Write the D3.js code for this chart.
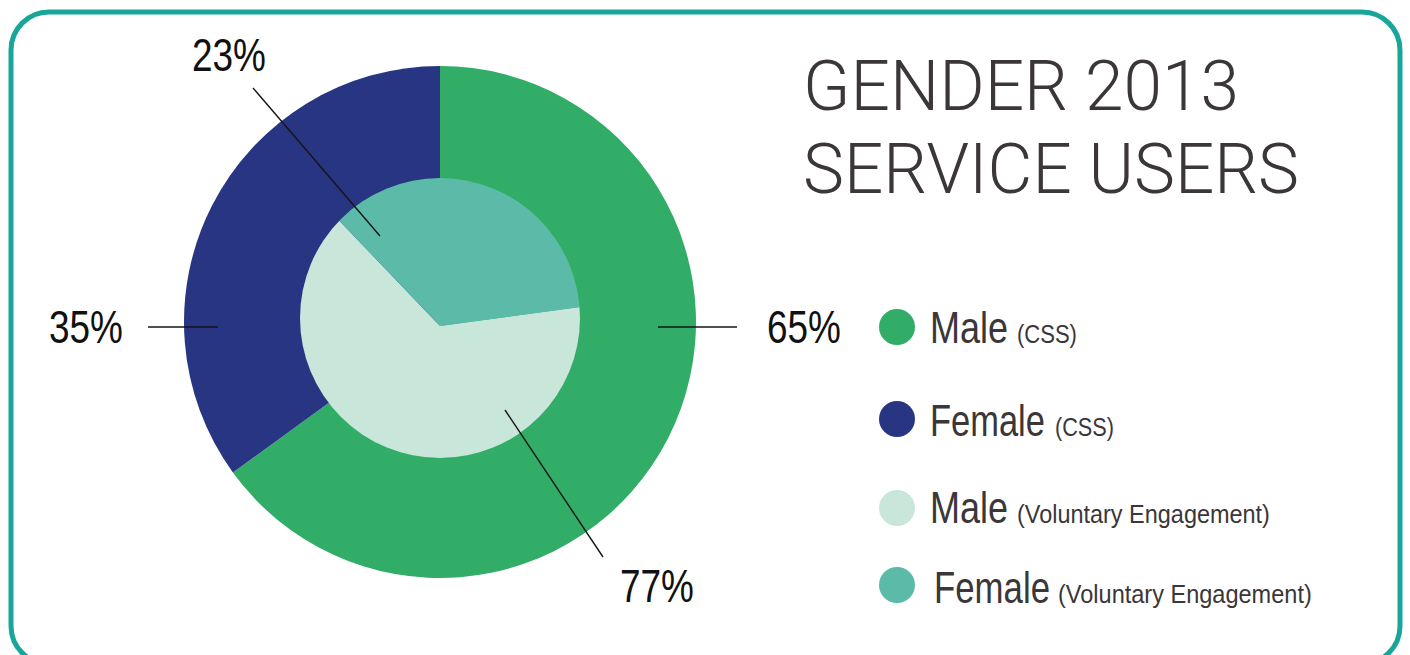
<!DOCTYPE html>
<html>
<head>
<meta charset="utf-8">
<script src="https://cdn.jsdelivr.net/npm/d3@7/dist/d3.min.js"></script>
<style>
  html, body { margin: 0; padding: 0; background: #ffffff; }
  svg { display: block; }
</style>
</head>
<body>
<svg id="chart" width="1410" height="655"></svg>
<script>
// outer ring: CSS service users
const outerCategories = ["Male (CSS)", "Female (CSS)"];
const outerValues = [65, 35];
const outerLabels = ["65%", "35%"];

// inner pie: voluntary engagement (slice sizes as drawn in the picture, labels as printed)
const innerCategories = ["Male (Voluntary Engagement)", "Female (Voluntary Engagement)"];
const innerValues = [65, 35];
const innerLabels = ["77%", "23%"];

const legendNames = ["Male", "Female", "Male", "Female"];
const legendNotes = ["(CSS)", "(CSS)", "(Voluntary Engagement)", "(Voluntary Engagement)"];

const titleLines = ["GENDER 2013", "SERVICE USERS"];

const colors = {
  "Male (CSS)": "#31ad67",
  "Female (CSS)": "#283583",
  "Male (Voluntary Engagement)": "#c9e6da",
  "Female (Voluntary Engagement)": "#5bbba8"
};

const textColor = "#3b3638";
const sans = "'Liberation Sans', Arial, sans-serif";

const svg = d3.select("#chart");

// draws a horizontally condensed text: left edge at x, baseline at y, squeezed to width
function narrowText(parent, str, x, y, size, width, fill) {
  const g = parent.append("g");
  const t = g.append("text")
    .attr("x", 0).attr("y", 0)
    .attr("font-family", sans)
    .attr("font-size", size)
    .attr("fill", fill)
    .text(str);
  const natural = t.node().getComputedTextLength();
  g.attr("transform", `translate(${x},${y}) scale(${width / natural},1)`);
  return g;
}

// rounded frame
svg.append("rect")
  .attr("x", 11).attr("y", 12)
  .attr("width", 1389).attr("height", 652)
  .attr("rx", 38).attr("ry", 38)
  .attr("fill", "none")
  .attr("stroke", "#17a699")
  .attr("stroke-width", 5);

// outer ring
const cx = 440, cy = 322, R = 256;
const outerPie = d3.pie().sort(null);
const outerArc = d3.arc().innerRadius(0).outerRadius(R);

const gOuter = svg.append("g").attr("transform", `translate(${cx},${cy})`);
gOuter.selectAll("path")
  .data(outerPie(outerValues))
  .join("path")
  .attr("d", outerArc)
  .attr("fill", (d, i) => colors[outerCategories[i]]);

// inner pie: disc slightly above the ring centre, slices meet a bit lower
const discY = 318, discR = 140, vertexY = 326;
const deg = Math.PI / 180;
const innerPie = d3.pie().sort(null)
  .startAngle(82.3 * deg)
  .endAngle(442.3 * deg);
const innerArc = d3.arc().innerRadius(0).outerRadius(200);

svg.append("clipPath").attr("id", "disc")
  .append("circle")
  .attr("cx", cx).attr("cy", discY).attr("r", discR);

const gInner = svg.append("g").attr("clip-path", "url(#disc)")
  .append("g").attr("transform", `translate(${cx},${vertexY})`);
gInner.selectAll("path")
  .data(innerPie(innerValues))
  .join("path")
  .attr("d", innerArc)
  .attr("fill", (d, i) => colors[innerCategories[i]]);

// percentage labels with leader lines
const callouts = [
  { text: outerLabels[0], x: 767, y: 343, line: [[658, 327], [737, 327]] },
  { text: outerLabels[1], x: 49, y: 343, line: [[148, 327], [218, 327]] },
  { text: innerLabels[0], x: 620, y: 602, line: [[505, 410], [603, 557]] },
  { text: innerLabels[1], x: 192, y: 71, line: [[253, 88], [380, 236]] }
];

svg.append("g").selectAll("line")
  .data(callouts)
  .join("line")
  .attr("x1", d => d.line[0][0]).attr("y1", d => d.line[0][1])
  .attr("x2", d => d.line[1][0]).attr("y2", d => d.line[1][1])
  .attr("stroke", "#151515")
  .attr("stroke-width", 1.4);

const gLabels = svg.append("g");
callouts.forEach(c => narrowText(gLabels, c.text, c.x, c.y, 46, 74, "#111111"));

// title
const titleWidths = [436, 496];
svg.append("g").selectAll("text")
  .data(titleLines)
  .join("text")
  .attr("x", 803)
  .attr("y", (d, i) => [110, 193][i])
  .attr("font-family", "Roboto, 'Open Sans', Lato, sans-serif")
  .attr("font-weight", 300)
  .attr("font-size", 71)
  .attr("fill", textColor)
  .attr("textLength", (d, i) => titleWidths[i])
  .attr("lengthAdjust", "spacingAndGlyphs")
  .text(d => d);

// legend
const legendColors = [...outerCategories, ...innerCategories].map(c => colors[c]);
const legendRows = [
  { cy: 327, tx: 930, base: 343, w: 78, nx: 1017, nw: 60 },
  { cy: 419, tx: 930, base: 436, w: 115, nx: 1055, nw: 59 },
  { cy: 508, tx: 930, base: 523, w: 78, nx: 1017, nw: 253 },
  { cy: 585, tx: 934, base: 603, w: 116, nx: 1058, nw: 254 }
];

const legend = svg.append("g").selectAll("g")
  .data(legendNames)
  .join("g");

legend.append("circle")
  .attr("cx", 897)
  .attr("cy", (d, i) => legendRows[i].cy)
  .attr("r", 18)
  .attr("fill", (d, i) => legendColors[i]);

legend.each(function (d, i) {
  const g = d3.select(this);
  const row = legendRows[i];
  narrowText(g, d, row.tx, row.base, 44, row.w, textColor);
  narrowText(g, legendNotes[i], row.nx, row.base, 25, row.nw, textColor);
});
</script>
</body>
</html>
